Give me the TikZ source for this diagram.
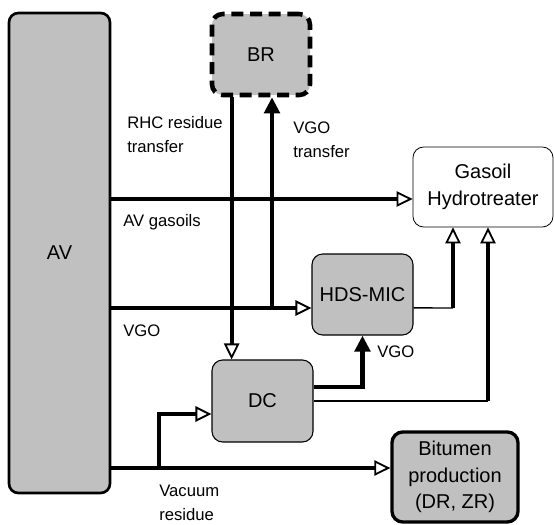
\documentclass[tikz,border=0pt]{standalone}
\usepackage{fontspec}
\setmainfont{Liberation Sans}
\usepackage{tikz}
\usetikzlibrary{arrows.meta, positioning}
\definecolor{unitgrey}{HTML}{C0C0C0}

\begin{document}
\begin{tikzpicture}[
  x=0.75pt, y=-0.75pt,
  unit/.style={draw, rounded corners=8pt, fill=unitgrey, align=center, font=\fontsize{15}{20}\selectfont, line width=0.8pt},
  flow/.style={line width=3.2pt, -{Triangle[open, length=12pt, width=11.5pt, line width=1.4pt]}},
  flowfill/.style={line width=3.2pt, -{Triangle[length=12pt, width=11.5pt]}},
  feed/.style={line width=1pt},
  lbl/.style={anchor=west, align=left, inner sep=0pt, font=\fontsize{12.5}{18}\selectfont},
]
  \useasboundingbox (0,0) rectangle (554,525);
  \node[unit, minimum width=75.75pt, minimum height=360pt, line width=2pt, rounded corners=7pt] (av) at (59.5,253) {AV};
  \node[unit, minimum width=73.5pt, minimum height=60.75pt, line width=3.4pt, dash pattern=on 9pt off 5pt] (br) at (261,54.5) {BR};
  \node[unit, fill=white, minimum width=105pt, minimum height=60pt, line width=0.6pt] (gh) at (483,187) {Gasoil\\Hydrotreater};
  \node[unit, minimum width=75.75pt, minimum height=60.75pt] (hds) at (362.5,294.5) {HDS-MIC};
  \node[unit, minimum width=75.75pt, minimum height=61.5pt] (dc) at (262.5,401) {DC};
  \node[unit, minimum width=94.5pt, minimum height=67.5pt, line width=2.5pt] (bit) at (455,477) {Bitumen\\production\\(DR, ZR)};

  \coordinate (vgoj) at (272,308);
  \coordinate (vrj) at (159,468);
  \coordinate (hdsout) at (453,308);
  \coordinate (dcout) at (488,401);

  \draw[flow] ([yshift=-9pt]gh.west -| av.east) -- ([yshift=-9pt]gh.west);
  \draw[flow] (av.east |- vgoj) -- (hds.west |- vgoj);
  \draw[flowfill] (vgoj) -- (vgoj |- br.south);
  \draw[flow] ([xshift=-22pt]br.south) -- ([xshift=-22pt]br.south |- dc.north);
  \draw[flowfill] ([yshift=10.5pt]dc.east) -| (hds.south);
  \draw[feed] ([yshift=-10pt]hds.east) -- (hdsout);
  \draw[flow] (hdsout) -- (hdsout |- gh.south);
  \draw[feed] (dc.east) -- (dcout);
  \draw[flow] (dcout) -- (dcout |- gh.south);
  \draw[flow] (av.east |- vrj) -- (bit.west |- vrj);
  \draw[flow] (vrj) |- ([yshift=-9.75pt]dc.west);

  \node[lbl] (rhc) at (127,135) {RHC residue\\transfer};
  \node[lbl] (vgotr) at (293,140) {VGO\\transfer};
  \node[lbl] (avgas) at (123,222) {AV gasoils};
  \node[lbl] (vgoin) at (123,331) {VGO};
  \node[lbl] (vgodc) at (377,352) {VGO};
  \node[lbl] (vacres) at (159,503) {Vacuum\\residue};
\end{tikzpicture}
\end{document}
